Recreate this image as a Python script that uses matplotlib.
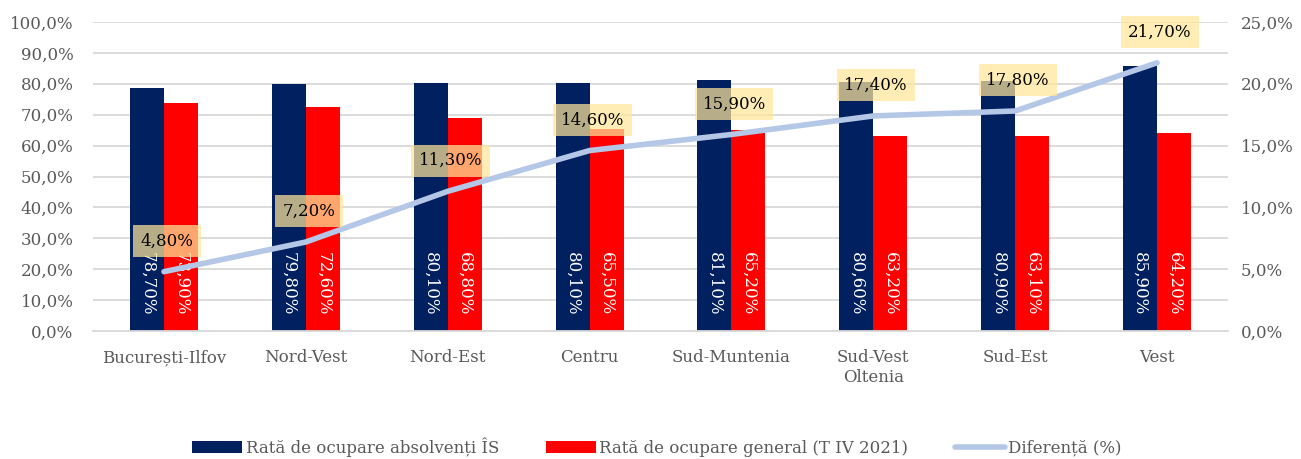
import matplotlib
matplotlib.use("Agg")
import matplotlib.pyplot as plt
import numpy as np
from matplotlib.ticker import FuncFormatter

categories = ["București-Ilfov", "Nord-Vest", "Nord-Est", "Centru", "Sud-Muntenia",
              "Sud-Vest\nOltenia", "Sud-Est", "Vest"]
absolventi = [78.7, 79.8, 80.1, 80.1, 81.1, 80.6, 80.9, 85.9]
general = [73.9, 72.6, 68.8, 65.5, 65.2, 63.2, 63.1, 64.2]
diferenta = [4.8, 7.2, 11.3, 14.6, 15.9, 17.4, 17.8, 21.7]
series_names = ["Rată de ocupare absolvenți ÎS", "Rată de ocupare general (T IV 2021)", "Diferență (%)"]

plt.rcParams['font.family'] = ['DejaVu Serif']
NAVY = "#002060"
RED = "#FF0000"
LINE = "#B4C7E7"
GREY = "#595959"
FS = 12

fig = plt.figure(figsize=(13.01, 4.59), dpi=100)
ax = fig.add_axes([93/1301, 1 - 331/459, (1228-93)/1301, (331-22)/459])
x = np.arange(len(categories))
w = 0.24
b1 = ax.bar(x - w/2, absolventi, w, color=NAVY, zorder=2)
b2 = ax.bar(x + w/2, general, w, color=RED, zorder=2)

def pct(v):
    return f"{v:.2f}".replace(".", ",") + "%"

for bars, vals in ((b1, absolventi), (b2, general)):
    for r, v in zip(bars, vals):
        ax.text(r.get_x() + r.get_width()/2, 5.0, pct(v), rotation=-90,
                ha="center", va="bottom", color="white", fontsize=FS, zorder=3)

ax.set_ylim(0, 100)
ax.set_xlim(-0.5, len(categories) - 0.5)
ax.set_yticks(np.arange(0, 101, 10))
ax.yaxis.set_major_formatter(FuncFormatter(lambda v, p: f"{v:.1f}".replace(".", ",") + "%"))
ax.set_xticks(x)
ax.set_xticklabels(categories)
ax.grid(axis="y", color="#D9D9D9", linewidth=1.3, zorder=0)
ax.set_axisbelow(True)
for s in ["top", "right", "left"]:
    ax.spines[s].set_visible(False)
ax.spines["bottom"].set_color("#D9D9D9")
ax.spines["bottom"].set_linewidth(1.3)
ax.tick_params(axis="y", length=0, labelsize=FS, labelcolor=GREY, pad=14)
ax.tick_params(axis="x", length=0, labelsize=FS, labelcolor=GREY, pad=13)

ax2 = ax.twinx()
ax2.set_ylim(0, 25)
ax2.set_yticks(np.arange(0, 26, 5))
ax2.yaxis.set_major_formatter(FuncFormatter(lambda v, p: f"{v:.1f}".replace(".", ",") + "%"))
for s in ["top", "right", "left", "bottom"]:
    ax2.spines[s].set_visible(False)
ax2.tick_params(axis="y", length=0, labelsize=FS, labelcolor=GREY, pad=9)
ln, = ax2.plot(x, diferenta, color=LINE, linewidth=4, solid_capstyle="round", zorder=4)
for xi, v in zip(x, diferenta):
    ax2.annotate(pct(v), (xi, v), xytext=(2, 22), textcoords="offset points",
                 ha="center", va="center", fontsize=FS, color="black", zorder=5,
                 bbox=dict(boxstyle="square,pad=0.45", fc="#FFE699", ec="none", alpha=0.72))

handles = [b1, b2, ln]
fig.legend(handles, series_names, loc="lower center", bbox_to_anchor=(0.505, -0.028), ncol=3,
           frameon=False, fontsize=FS, labelcolor=GREY, handlelength=3.0, handleheight=0.7,
           columnspacing=2.8, handletextpad=0.2)

fig.savefig("out.png", dpi=100)
